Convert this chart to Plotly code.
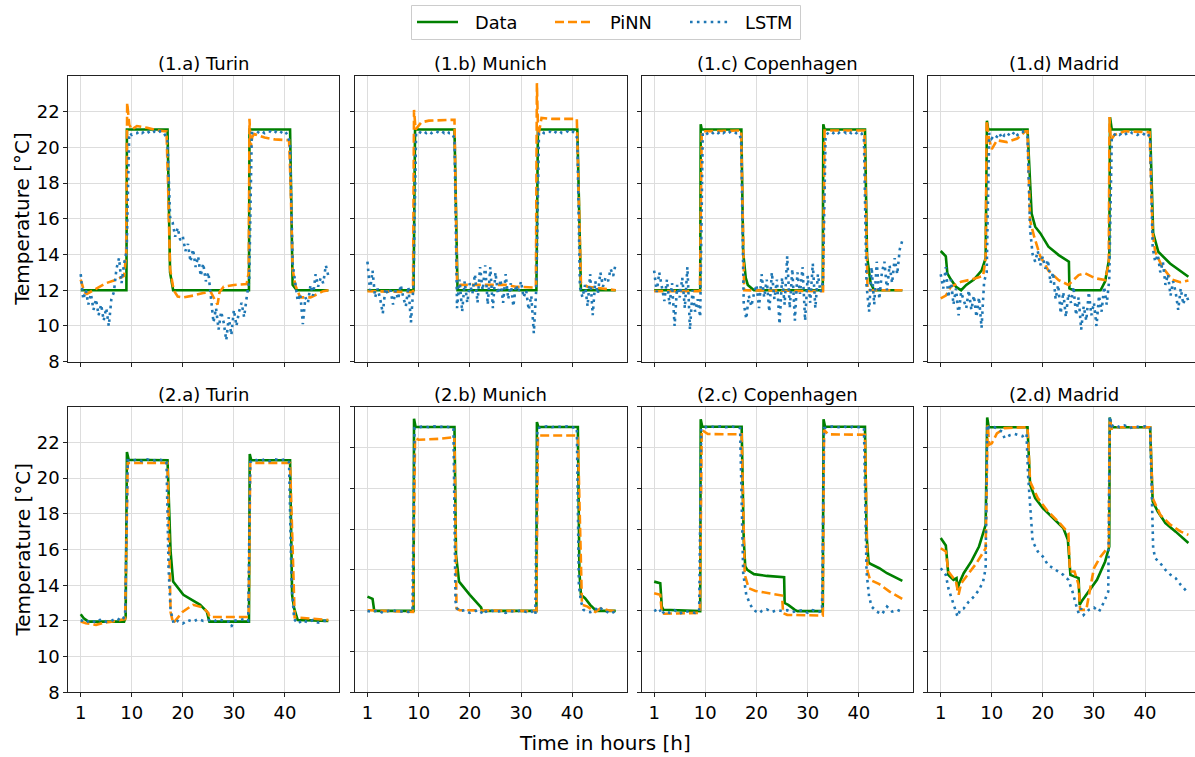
import plotly.graph_objects as go

# ---------------- data ----------------
X_TICKVALS = [0, 10, 20, 30, 40]
X_TICKTEXT = ["1", "10", "20", "30", "40"]
Y_TICKVALS = [8, 10, 12, 14, 16, 18, 20, 22]
Y_TICKVALS_ROW2 = [8.0, 10.2857, 12.5714, 14.8571, 17.1429, 19.4286, 21.7143, 24.0]

TITLES = ["(1.a) Turin", "(1.b) Munich", "(1.c) Copenhagen", "(1.d) Madrid",
          "(2.a) Turin", "(2.b) Munich", "(2.c) Copenhagen", "(2.d) Madrid"]
SERIES_NAMES = ["Data", "PiNN", "LSTM"]

T_HALF = [0.0, 0.5, 1.0, 1.5, 2.0, 2.5, 3.0, 3.5, 4.0, 4.5, 5.0, 5.5, 6.0, 6.5, 7.0, 7.5,
          8.0, 8.5, 9.0, 9.5, 10.0, 10.5, 11.0, 11.5, 12.0, 12.5, 13.0, 13.5, 14.0, 14.5,
          15.0, 15.5, 16.0, 16.5, 17.0, 17.5, 18.0, 18.5, 19.0, 19.5, 20.0, 20.5, 21.0,
          21.5, 22.0, 22.5, 23.0, 23.5, 24.0, 24.5, 25.0, 25.5, 26.0, 26.5, 27.0, 27.5,
          28.0, 28.5, 29.0, 29.5, 30.0, 30.5, 31.0, 31.5, 32.0, 32.5, 33.0, 33.5, 34.0,
          34.5, 35.0, 35.5, 36.0, 36.5, 37.0, 37.5, 38.0, 38.5, 39.0, 39.5, 40.0, 40.5,
          41.0, 41.5, 42.0, 42.5, 43.0, 43.5, 44.0, 44.5, 45.0, 45.5, 46.0, 46.5, 47.0,
          47.5, 48.0, 48.5]

# (1.a) Turin
turin1_data_t = [0, 8.95, 9.05, 17.0, 17.5, 18.1, 32.95, 33.05, 41.0, 41.5, 42.3, 48.5]
turin1_data_y = [12, 12, 21, 21, 13.0, 12, 12, 21, 21, 12.3, 12, 12]
turin1_pinn_t = [0, 0.7, 1.2, 3, 5, 7, 8.5, 8.9, 9.1, 9.5, 10, 11, 13, 15, 16.8, 17.1, 17.5,
                 18.2, 19, 20, 22, 24, 25.5, 26.2, 26.8, 27.2, 28, 30, 32.5, 32.9, 33.05,
                 33.3, 33.6, 34, 36, 38, 40.8, 41.1, 41.5, 42, 43, 45, 47.5, 48.5]
turin1_pinn_y = [12.6, 11.9, 11.8, 12.1, 12.4, 12.6, 12.8, 14, 22.5, 21.3, 21.0, 21.2, 21.1,
                 20.95, 20.9, 18, 13.2, 12.0, 11.65, 11.6, 11.7, 11.85, 11.9, 11.5, 11.2,
                 11.9, 12.2, 12.3, 12.35, 13, 21.6, 20.0, 20.6, 20.75, 20.55, 20.45, 20.4,
                 18, 13.2, 12.3, 11.6, 11.6, 11.95, 12.0]
turin1_lstm_y = [12.9, 11.5, 12.0, 11.2, 11.8, 10.9, 11.5, 10.6, 11.2, 10.3, 11.0, 10.0, 11.5,
                 11.9, 13.2, 13.8, 12.4, 13.5, 14.2,
                 20.8, 20.7, 20.8, 20.8, 20.9, 20.8, 20.9, 20.8, 20.9, 20.8, 20.9, 20.8, 20.9,
                 20.9, 20.7, 20.4,
                 16.1, 15.8, 15.0, 15.5, 14.8, 15.0, 14.2, 14.6, 13.6, 14.3, 13.3, 13.9, 12.8,
                 13.5, 12.5, 13.0, 11.5, 10.2, 11.0, 9.8, 10.8, 10.2, 9.2, 10.5, 9.5, 10.9,
                 10.0, 10.8, 11.3, 10.5, 11.6, 12.5,
                 20.8, 20.8, 20.9, 20.8, 20.9, 20.8, 20.9, 20.9, 20.8, 20.9, 20.8, 20.9, 20.8,
                 20.9, 20.7, 20.2,
                 13.5, 12.4, 11.4, 11.8, 10.1, 11.6, 11.3, 12.3, 11.7, 12.9, 12.2, 12.7, 12.4,
                 13.4, 12.8]

# (1.b) Munich
munich1_data_t = [0, 9.0, 9.3, 17.0, 17.6, 33.0, 33.3, 41.0, 41.7, 48.5]
munich1_data_y = [12, 12, 21, 21, 12, 12, 21, 21, 12, 12]
munich1_pinn_t = [0, 8.9, 9.1, 9.4, 10.5, 12, 17.0, 17.5, 18, 27, 29, 32.9, 33.1, 33.35, 34,
                  36, 40.9, 41.7, 43, 48.5]
munich1_pinn_y = [11.95, 11.9, 22.1, 21.0, 21.4, 21.5, 21.55, 12.6, 12.3, 12.3, 12.2, 12.15,
                  23.6, 20.6, 21.65, 21.6, 21.6, 12.4, 12.2, 12.0]
munich1_lstm_y = [13.6, 12.0, 13.1, 11.6, 12.1, 11.5, 10.7, 12.1, 11.8, 12.0, 11.2, 12.0, 11.5,
                  12.3, 11.6, 11.1, 12.2, 10.2, 12.3,
                  20.8, 20.9, 20.8, 20.9, 20.8, 20.9, 20.8, 20.9, 20.9, 20.8, 20.9, 20.8, 20.9,
                  20.8, 20.8, 20.5,
                  11.0, 12.6, 10.8, 12.5, 11.3, 12.4, 11.8, 12.9, 11.3, 13.3, 12.0, 13.4, 11.2,
                  13.3, 11.0, 13.0, 11.8, 12.6, 11.3, 12.9, 11.5, 12.4, 11.1, 12.3, 11.9, 12.5,
                  11.6, 12.0, 10.9, 11.7, 9.6, 12.2,
                  20.8, 20.9, 20.8, 20.8, 20.9, 20.8, 20.9, 20.8, 20.9, 20.8, 20.8, 20.9, 20.8,
                  20.9, 20.8, 20.5,
                  12.2, 11.6, 12.3, 11.1, 12.9, 10.6, 12.5, 11.8, 13.0, 12.2, 12.7, 12.5, 13.2,
                  12.8, 13.5]

# (1.c) Copenhagen
copen1_data_t = [0, 9.0, 9.1, 9.3, 17.05, 17.4, 17.9, 18.3, 19.5, 32.95, 33.05, 33.3, 41.2,
                 41.6, 42.3, 43, 48.5]
copen1_data_y = [12, 12, 21.3, 21.0, 21.0, 14.1, 12.7, 12.3, 12.0, 12, 21.3, 21.0, 21.0, 13.9,
                 12.4, 12.0, 12.0]
copen1_pinn_t = [0, 8.95, 9.3, 17.0, 17.6, 33.0, 33.3, 41.1, 41.7, 48.5]
copen1_pinn_y = [11.95, 11.95, 20.9, 20.95, 12.0, 11.95, 20.95, 20.95, 12.0, 12.0]
copen1_lstm_y = [13.1, 11.9, 13.0, 12.2, 11.4, 12.6, 11.2, 12.4, 10.0, 12.3, 11.6, 12.7, 11.0,
                 13.3, 9.8, 12.0, 10.8, 11.5, 10.5,
                 20.8, 20.7, 20.8, 20.9, 20.8, 20.9, 20.8, 20.9, 20.8, 20.9, 20.8, 20.9, 20.9,
                 20.8, 20.8, 20.5,
                 11.3, 10.4, 11.7, 11.1, 11.8, 12.3, 11.0, 12.9, 11.6, 12.6, 10.8, 13.0, 11.5,
                 12.6, 10.1, 12.7, 11.2, 13.9, 11.0, 13.2, 10.3, 13.0, 11.8, 13.3, 10.3, 12.8,
                 11.3, 13.5, 11.0, 12.9, 11.9, 12.5,
                 20.7, 20.8, 20.9, 20.8, 20.9, 20.8, 20.9, 20.9, 20.8, 20.9, 20.8, 20.9, 20.8,
                 20.9, 20.8, 20.4,
                 12.3, 10.8, 13.3, 11.2, 13.6, 11.5, 13.0, 13.6, 12.0, 13.4, 12.4, 13.8, 12.9,
                 14.3, 14.8]

# (1.d) Madrid
madrid1_data_t = [0, 1.0, 1.3, 2.0, 3.0, 4.0, 5.0, 6.5, 8.0, 8.8, 9.05, 9.3, 17.0, 17.8, 18.5,
                  19.5, 21.1, 23.1, 25.1, 25.2, 26, 31.3, 32.2, 33.0, 33.15, 33.5, 41.0, 41.6,
                  42.6, 44.9, 48.5]
madrid1_data_y = [14.2, 13.9, 12.95, 12.6, 12.2, 12.0, 12.3, 12.6, 13.1, 13.8, 21.5, 21.0,
                  21.0, 16.3, 15.56, 15.2, 14.44, 13.97, 13.6, 12.1, 12.0, 12.0, 12.5, 13.8,
                  21.7, 21.0, 21.0, 15.2, 14.16, 13.5, 12.76]
madrid1_pinn_t = [0, 1, 2, 4, 6, 8.3, 8.8, 9.0, 9.5, 10, 11, 13, 15, 16.6, 17.0, 17.5, 18.3,
                  19.5, 21.1, 23.1, 25, 27, 28.3, 30.3, 32.2, 32.9, 33.05, 33.3, 34, 36, 40.9,
                  41.5, 42, 43.4, 45.3, 46.9, 48.5]
madrid1_pinn_y = [11.55, 11.7, 12.2, 12.48, 12.6, 12.8, 13.8, 21.5, 20.4, 19.9, 20.4, 20.3,
                  20.5, 20.9, 20.9, 15.9, 15.0, 13.9, 13.1, 12.57, 12.3, 12.85, 12.95, 12.67,
                  12.57, 13.5, 21.7, 20.4, 20.7, 20.9, 20.85, 15.2, 14.16, 13.3, 12.6, 12.45,
                  12.55]
madrid1_lstm_y = [12.9, 12.1, 13.3, 11.6, 12.6, 11.2, 12.1, 10.6, 11.9, 11.4, 11.0, 12.0, 10.9,
                  11.7, 10.5, 11.6, 9.9, 12.5, 13.0,
                  20.8, 20.5, 20.7, 20.6, 20.8, 20.5, 20.7, 20.6, 20.8, 20.7, 20.9, 20.7, 20.8,
                  20.9, 20.7, 20.6,
                  15.4, 14.0, 13.6, 14.2, 13.4, 13.9, 13.2, 13.7, 12.4, 13.0, 11.5, 12.3, 10.7,
                  11.9, 10.5, 11.8, 11.3, 12.2, 10.6, 11.6, 9.8, 11.1, 10.3, 11.9, 10.6, 11.3,
                  10.0, 11.7, 10.8, 12.2, 11.2, 12.6,
                  20.6, 20.7, 20.8, 20.7, 20.8, 20.7, 20.8, 20.9, 20.8, 20.8, 20.7, 20.8, 20.8,
                  20.7, 20.8, 20.5,
                  14.4, 13.6, 14.0, 13.0, 13.6, 12.3, 12.9, 11.7, 12.5, 11.9, 10.9, 12.1, 11.2,
                  11.8, 11.4]

# (2.a) Turin
turin2_data_t = [0, 0.6, 1.5, 8.5, 8.8, 9.05, 9.4, 17.0, 17.6, 18.1, 20.1, 22.1, 23.4, 24.7,
                 25.0, 25.2, 32.95, 33.1, 33.4, 41.0, 41.4, 41.8, 42.5, 48.5]
turin2_data_y = [12.37, 12.15, 11.96, 11.96, 12.2, 21.46, 21.03, 21.0, 15.9, 14.2, 13.46,
                 13.12, 12.9, 12.52, 12.05, 11.96, 11.96, 21.35, 21.0, 21.0, 13.46, 12.7,
                 12.05, 12.0]
turin2_pinn_t = [0, 1, 3, 4.5, 6, 8.7, 9.2, 17.0, 17.6, 18.1, 20, 22, 24, 25, 25.2, 32.9, 33.2,
                 41.0, 41.9, 48.5]
turin2_pinn_y = [11.96, 11.87, 11.78, 11.9, 11.95, 12.1, 20.85, 20.85, 12.5, 11.87, 12.52,
                 12.9, 12.75, 12.43, 12.22, 12.22, 20.85, 20.85, 12.2, 12.05]
turin2_lstm_t = [0, 1, 2, 3, 4, 5, 6, 7, 8, 8.7, 9.2, 10, 11, 12, 13, 14, 15, 16, 16.8, 17.2,
                 17.6, 18.2, 19, 20, 21, 22, 23, 24, 25, 26, 27, 28, 29, 29.5, 30, 31, 32, 32.8,
                 33.2, 34, 35, 36, 37, 38, 39, 40, 40.8, 41.3, 41.8, 42.5, 43.5, 44.5, 45.5,
                 46.5, 47.5, 48.5]
turin2_lstm_y = [12.05, 11.9, 12.05, 11.9, 12.1, 11.95, 12.0, 12.15, 12.0, 12.3, 21.0, 20.95,
                 21.05, 20.95, 21.05, 20.95, 21.05, 21.0, 20.9, 15.0, 12.6, 11.85, 12.0, 11.85,
                 12.05, 11.95, 12.1, 12.0, 12.05, 11.95, 12.1, 12.0, 11.95, 11.68, 12.0, 12.05,
                 12.1, 12.0, 20.9, 21.05, 20.95, 21.05, 20.95, 21.05, 21.0, 21.05, 20.9, 14.0,
                 12.1, 11.85, 12.05, 11.9, 12.05, 11.9, 12.0, 12.0]

# (2.b) Munich
munich2_data_t = [0, 1.0, 1.3, 1.4, 9.0, 9.1, 9.4, 17.0, 17.3, 17.9, 20, 22.2, 22.4, 33.0, 33.1,
                  33.4, 41.1, 41.4, 41.7, 42.5, 43.5, 44.7, 48.5]
munich2_data_y = [13.36, 13.23, 12.62, 12.56, 12.56, 23.33, 22.86, 22.86, 15.7, 14.2, 13.46,
                  12.75, 12.56, 12.56, 23.14, 22.86, 22.86, 14.77, 13.46, 13.27, 12.9, 12.56,
                  12.56]
munich2_pinn_t = [0, 8.9, 9.3, 10, 14, 17.0, 17.4, 18, 33.0, 33.3, 41.1, 41.9, 43, 44.5, 45.5,
                  47, 48.5]
munich2_pinn_y = [12.6, 12.5, 22.24, 22.15, 22.2, 22.3, 12.7, 12.6, 12.55, 22.39, 22.39, 12.9,
                  12.8, 12.5, 12.7, 12.6, 12.55]
munich2_lstm_t = [0, 1, 2, 3, 4, 5, 6, 7, 8, 8.8, 9.2, 10, 11, 12, 13, 14, 15, 16, 16.8, 17.2,
                  17.5, 18, 19, 20, 21, 22, 22.5, 23, 24, 25, 26, 27, 28, 29, 30, 31, 32, 32.8,
                  33.2, 34, 35, 36, 37, 38, 39, 40, 40.9, 41.3, 41.7, 42.2, 43, 43.5, 44.5, 45,
                  46, 46.5, 47.5, 48.5]
munich2_lstm_y = [12.55, 12.5, 12.6, 12.45, 12.55, 12.6, 12.5, 12.55, 12.5, 12.6, 22.8, 22.85,
                  22.9, 22.85, 22.9, 22.85, 22.9, 22.85, 22.8, 13.1, 12.7, 12.55, 12.6, 12.45,
                  12.55, 12.6, 12.35, 12.5, 12.6, 12.5, 12.55, 12.45, 12.55, 12.5, 12.6, 12.5,
                  12.55, 12.34, 22.8, 22.85, 22.9, 22.85, 22.9, 22.85, 22.9, 22.85, 22.8, 14.0,
                  13.1, 12.62, 12.5, 12.49, 12.6, 12.8, 12.6, 12.55, 12.4, 12.55]

# (2.c) Copenhagen
copen2_data_t = [0, 1.2, 1.5, 1.8, 9.0, 9.1, 9.4, 17.1, 17.5, 17.8, 18.2, 19.5, 22, 25.4, 25.5,
                 26.2, 27.5, 28, 32.95, 33.1, 33.4, 41.2, 41.5, 41.9, 42.2, 44, 45.5, 48.5]
copen2_data_y = [14.2, 14.11, 12.8, 12.62, 12.55, 23.3, 22.88, 22.88, 16.6, 15.05, 14.86, 14.62,
                 14.52, 14.45, 13.0, 12.9, 12.62, 12.55, 12.55, 23.3, 22.88, 22.88, 16.8, 15.3,
                 15.2, 14.95, 14.67, 14.24]
copen2_pinn_t = [0, 1.2, 1.5, 2, 8.95, 9.3, 10.5, 17.1, 17.7, 18.5, 19.8, 22.1, 25.0, 25.2, 26,
                 32.95, 33.2, 34, 41.2, 41.7, 42.2, 44, 46, 48.5]
copen2_pinn_y = [13.55, 13.46, 12.43, 12.4, 12.45, 22.7, 22.47, 22.45, 14.58, 13.83, 13.68,
                 13.55, 13.42, 12.43, 12.34, 12.3, 22.7, 22.45, 22.43, 14.77, 14.3, 14.06,
                 13.64, 13.23]
copen2_lstm_t = [0, 1, 1.5, 2, 3, 4, 5, 6, 7, 8, 8.8, 9.2, 10, 11, 12, 13, 14, 15, 16, 16.8,
                 17.4, 18, 18.8, 19.5, 20.5, 21, 22, 23, 24, 25, 26, 27, 28, 29, 30, 31, 32,
                 32.8, 33.2, 34, 35, 36, 37, 38, 39, 40, 41, 41.5, 42, 42.5, 43.5, 44.5, 45.5,
                 46.5, 47.5, 48.5]
copen2_lstm_y = [12.55, 12.7, 12.35, 12.55, 12.45, 12.6, 12.4, 12.55, 12.5, 12.45, 12.55, 22.8,
                 22.85, 22.9, 22.85, 22.9, 22.85, 22.9, 22.85, 22.8, 14.67, 13.46, 12.9, 12.6,
                 12.43, 12.55, 12.65, 12.5, 12.6, 12.55, 12.6, 12.5, 12.55, 12.6, 12.45, 12.6,
                 12.5, 12.55, 22.8, 22.85, 22.9, 22.85, 22.9, 22.8, 22.9, 22.85, 22.8, 14.77,
                 13.36, 12.8, 12.52, 12.37, 12.8, 12.52, 12.62, 12.5]

# (2.d) Madrid
madrid2_data_t = [0, 1.0, 1.5, 2.5, 3.1, 3.3, 3.6, 4.5, 6, 7.5, 8.8, 9.1, 9.4, 17.0, 17.5, 18.5,
                  20, 22, 24, 24.9, 25.4, 27, 27.2, 27.6, 29, 30.6, 32.2, 33.0, 33.1, 33.4,
                  41.0, 41.5, 42.5, 44, 46, 48.5]
madrid2_data_y = [16.64, 16.22, 14.58, 14.3, 14.4, 13.74, 14.1, 14.67, 15.33, 16.17, 17.38,
                  23.4, 22.85, 22.85, 19.63, 18.88, 18.32, 17.76, 17.2, 16.54, 14.58, 14.4,
                  12.9, 13.1, 13.64, 14.3, 15.33, 16.17, 23.4, 22.85, 22.85, 18.7, 18.13,
                  17.48, 17.0, 16.36]
madrid2_pinn_t = [0, 1, 1.5, 3.0, 3.5, 4, 5.5, 7, 8.8, 9.2, 9.5, 10, 11, 12.5, 17.0, 17.5, 19,
                  21, 23, 25, 25.3, 26.2, 27.0, 27.3, 28.5, 29, 30, 31.3, 32.9, 33.1, 33.5,
                  34.5, 41.0, 41.5, 43, 45, 47, 48.5]
madrid2_pinn_y = [16.07, 15.89, 14.77, 14.2, 13.46, 14.1, 14.67, 15.23, 16.07, 22.99, 21.87,
                  21.95, 22.5, 22.8, 22.85, 19.8, 18.88, 18.13, 17.57, 16.92, 14.77, 14.77,
                  14.02, 12.62, 12.62, 13.46, 14.95, 15.6, 16.17, 23.3, 22.77, 22.85, 22.85,
                  18.88, 17.94, 17.38, 17.0, 16.82]
madrid2_lstm_t = [0, 1, 1.5, 2, 2.5, 3.3, 3.8, 4.5, 5.5, 6.5, 7.5, 8.3, 8.8, 9.1, 9.5, 10.5, 12,
                  12.5, 13.5, 14.5, 16, 16.8, 17.1, 17.5, 18, 19, 20, 21, 22.5, 24, 25, 25.8,
                  26.5, 27, 27.5, 28, 29, 30, 31, 32, 32.8, 33.1, 33.5, 34, 35, 36, 37, 38, 39,
                  40, 41, 41.3, 41.6, 42, 43, 44, 45, 46, 47, 48.5]
madrid2_lstm_y = [14.95, 14.58, 13.83, 13.36, 12.9, 12.24, 12.62, 12.7, 13.08, 13.36, 13.74,
                  14.2, 14.95, 23.0, 22.8, 22.85, 22.6, 22.24, 22.4, 22.47, 22.34, 22.5, 20.19,
                  18.32, 16.45, 15.89, 15.6, 15.14, 14.86, 14.58, 14.3, 13.64, 12.9, 12.43,
                  12.7, 12.34, 12.62, 12.75, 12.52, 13.08, 13.64, 23.46, 22.9, 23.0, 22.85,
                  22.95, 22.8, 22.9, 22.85, 22.9, 22.8, 19.25, 16.07, 15.51, 15.23, 14.86,
                  14.58, 14.39, 14.02, 13.55]

PANELS = [
    (turin1_data_t, turin1_data_y, turin1_pinn_t, turin1_pinn_y, T_HALF, turin1_lstm_y),
    (munich1_data_t, munich1_data_y, munich1_pinn_t, munich1_pinn_y, T_HALF, munich1_lstm_y),
    (copen1_data_t, copen1_data_y, copen1_pinn_t, copen1_pinn_y, T_HALF, copen1_lstm_y),
    (madrid1_data_t, madrid1_data_y, madrid1_pinn_t, madrid1_pinn_y, T_HALF, madrid1_lstm_y),
    (turin2_data_t, turin2_data_y, turin2_pinn_t, turin2_pinn_y, turin2_lstm_t, turin2_lstm_y),
    (munich2_data_t, munich2_data_y, munich2_pinn_t, munich2_pinn_y, munich2_lstm_t, munich2_lstm_y),
    (copen2_data_t, copen2_data_y, copen2_pinn_t, copen2_pinn_y, copen2_lstm_t, copen2_lstm_y),
    (madrid2_data_t, madrid2_data_y, madrid2_pinn_t, madrid2_pinn_y, madrid2_lstm_t, madrid2_lstm_y),
]

for p in PANELS:
    assert len(p[0]) == len(p[1]) and len(p[2]) == len(p[3]) and len(p[4]) == len(p[5])

# ---------------- styling / layout ----------------
W, H = 1195, 757
FONT = "DejaVu Sans"
COLORS = ["#008000", "#ff8c00", "#1f77b4"]
LW = 2.6
DASHES = ["solid", "9px,4px", "2.6px,4.3px"]

col_px = [(68.3, 339.3), (355.0, 626.7), (641.7, 913.3), (928.3, 1195.0)]
row_px = [(76.0, 361.7), (406.7, 692.3)]
x_ranges = [[-2.43, 50.64], [-2.43, 50.64], [-2.43, 50.64], [-2.43, 49.79]]
col_center_px = [203.8, 490.85, 777.5, 1063.8]

fig = go.Figure()
layout = dict(
    width=W, height=H, autosize=False,
    margin=dict(l=0, r=0, t=0, b=0, pad=0),
    paper_bgcolor="white", plot_bgcolor="white",
    font=dict(family=FONT, size=18, color="black"),
    showlegend=False,
)

annotations = []
shapes = []
for k, (dt, dy, pt, py, lt, ly) in enumerate(PANELS):
    r, c = divmod(k, 4)
    ax = "" if k == 0 else str(k + 1)
    xa, ya = "x" + ax, "y" + ax
    for (tx, vy), name, col, dash in zip([(dt, dy), (pt, py), (lt, ly)], SERIES_NAMES,
                                         COLORS, DASHES):
        fig.add_trace(go.Scatter(x=tx, y=vy, mode="lines", name=name, legendgroup=name,
                                 line=dict(color=col, width=LW, dash=dash),
                                 xaxis=xa, yaxis=ya))

    x0, x1 = col_px[c]
    y0, y1 = row_px[r]
    xdom = [x0 / W, min(1.0, x1 / W)]
    ydom = [1 - y1 / H, 1 - y0 / H]
    common = dict(showline=True, linecolor="#222222", linewidth=1, ticks="outside",
                  ticklen=4, tickwidth=1, tickcolor="#222222", showgrid=True,
                  gridcolor="#dddddd", gridwidth=1, zeroline=False, automargin=False,
                  tickfont=dict(family=FONT, size=18))
    xaxis = dict(common, domain=xdom, range=x_ranges[c], anchor=ya, mirror=True,
                 tickvals=X_TICKVALS, ticktext=X_TICKTEXT, showticklabels=(r == 1))
    yt = Y_TICKVALS_ROW2 if (r == 1 and c > 0) else Y_TICKVALS
    yaxis = dict(common, domain=ydom, range=[8, 24], anchor=xa, mirror=(c < 3),
                 tickvals=yt, showticklabels=(c == 0))
    layout["xaxis" + ax] = xaxis
    layout["yaxis" + ax] = yaxis

    title_y = 63 if r == 0 else 394
    annotations.append(dict(text=TITLES[k], x=col_center_px[c] / W, y=1 - title_y / H,
                            xref="paper", yref="paper", xanchor="center", yanchor="middle",
                            showarrow=False, font=dict(family=FONT, size=18)))

for r in range(2):
    yc = (row_px[r][0] + row_px[r][1]) / 2
    annotations.append(dict(text="Temperature [°C]", x=22 / W, y=1 - yc / H, xref="paper",
                            yref="paper", xanchor="center", yanchor="middle", textangle=-90,
                            showarrow=False, font=dict(family=FONT, size=20)))
annotations.append(dict(text="Time in hours [h]", x=605 / W, y=1 - 743 / H, xref="paper",
                        yref="paper", xanchor="center", yanchor="middle", showarrow=False,
                        font=dict(family=FONT, size=20)))

# legend box (drawn like matplotlib's framed legend)
shapes.append(dict(type="rect", xref="paper", yref="paper", x0=411.5 / W, x1=800.5 / W,
                   y0=1 - 39.5 / H, y1=1 - 5.5 / H, line=dict(color="#cccccc", width=1),
                   fillcolor="white", layer="above"))
leg_line_px = [(417, 458), (555, 593), (690, 729)]
leg_text_px = [472.7, 608.3, 743.3]
leg_y = 1 - 22 / H
for (lx0, lx1), tx, name, col, dash in zip(leg_line_px, leg_text_px, SERIES_NAMES, COLORS,
                                           DASHES):
    shapes.append(dict(type="line", xref="paper", yref="paper", x0=lx0 / W, x1=lx1 / W,
                       y0=leg_y, y1=leg_y, line=dict(color=col, width=LW, dash=dash),
                       layer="above"))
    annotations.append(dict(text=name, x=tx / W, y=leg_y, xref="paper", yref="paper",
                            xanchor="left", yanchor="middle", showarrow=False,
                            font=dict(family=FONT, size=17.8)))

layout["annotations"] = annotations
layout["shapes"] = shapes
fig.update_layout(**layout)
fig.write_html(
    "out.html",
    config={"displayModeBar": False},
    post_script="document.body.style.margin='0';document.body.style.padding='0';"
                "document.documentElement.style.overflow='hidden';",
)
